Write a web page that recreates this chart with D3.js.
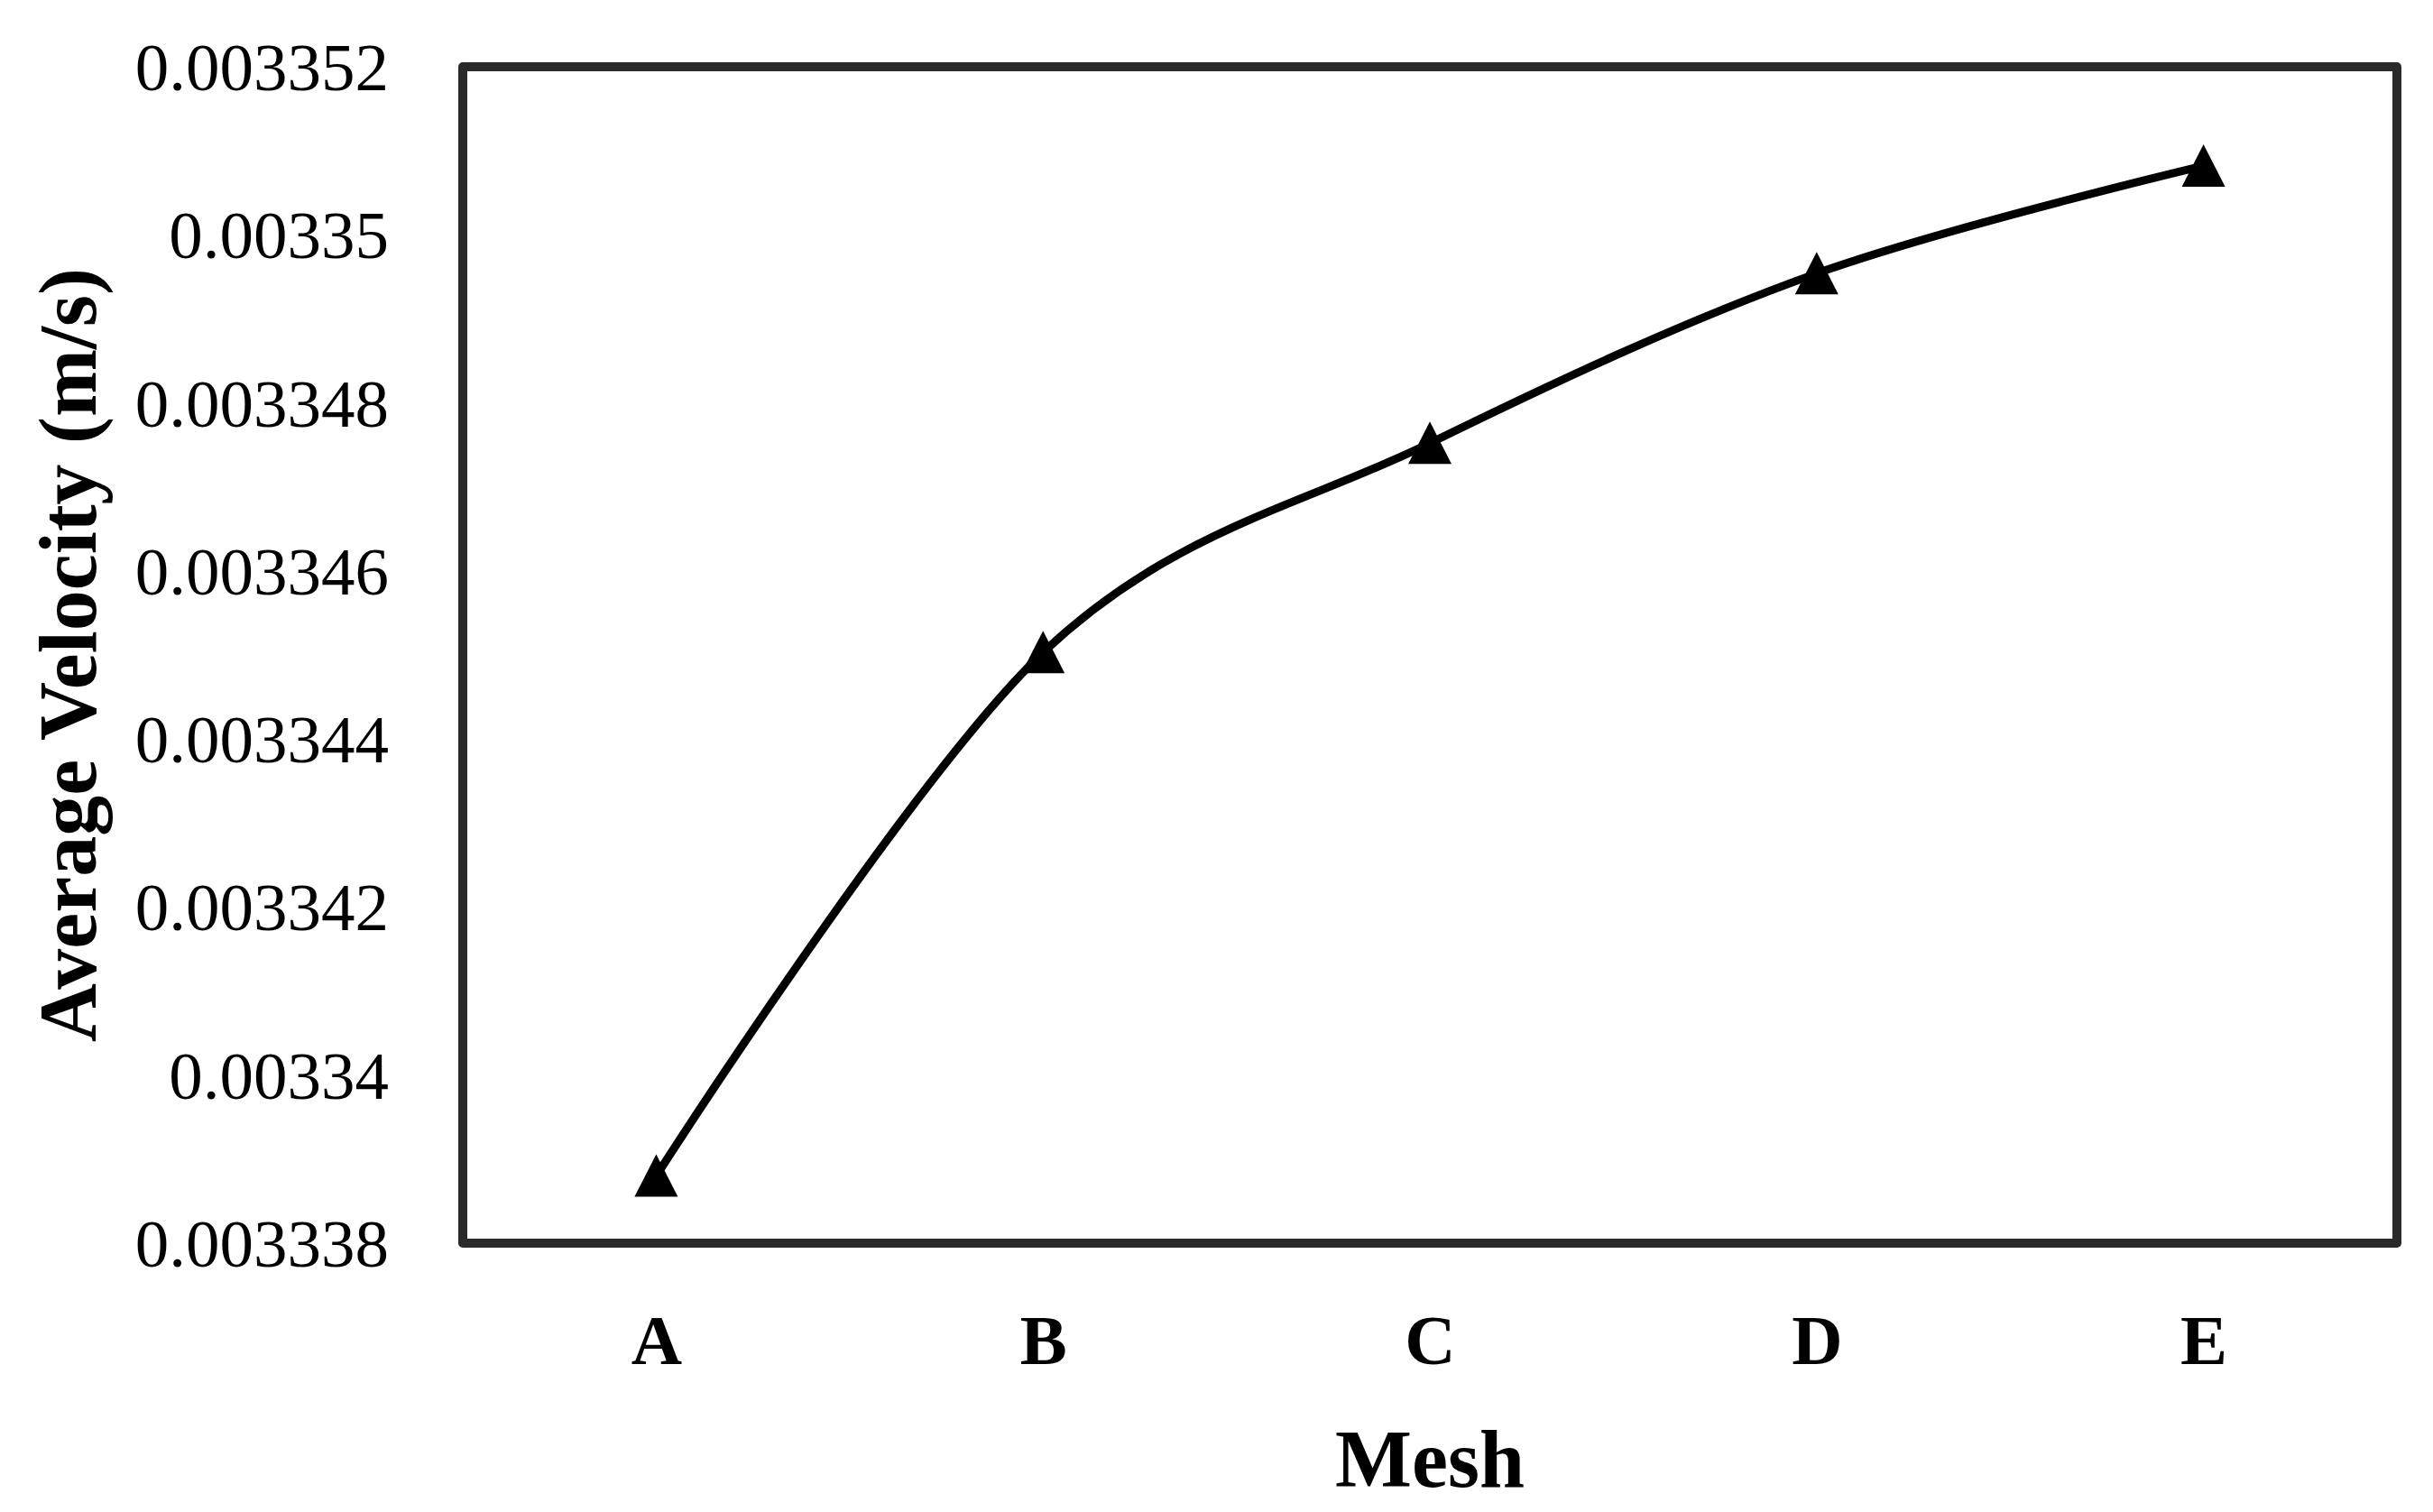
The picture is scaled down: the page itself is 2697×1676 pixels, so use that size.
<!DOCTYPE html>
<html>
<head>
<meta charset="utf-8">
<script src="https://cdn.jsdelivr.net/npm/d3@7"></script>
<style>
  html, body { margin: 0; padding: 0; background: #ffffff; }
  svg { display: block; }
</style>
</head>
<body>
<svg id="chart" width="2697" height="1676"></svg>
<script>
// ---- data ----
const categories = ["A", "B", "C", "D", "E"];
const velocity = [0.0033388, 0.00334503, 0.00334752, 0.00334954, 0.00335082];
const yTicks = [0.003338, 0.00334, 0.003342, 0.003344, 0.003346, 0.003348, 0.00335, 0.003352];
const yTickLabels = ["0.003338", "0.00334", "0.003342", "0.003344", "0.003346", "0.003348", "0.00335", "0.003352"];
const xTitle = "Mesh";
const yTitle = "Average Velocity (m/s)";

// ---- layout ----
const W = 2697, H = 1676;
const m = { left: 513, right: 2697 - 2657, top: 74, bottom: 1676 - 1378 };
const iw = W - m.left - m.right, ih = H - m.top - m.bottom;

const svg = d3.select("#chart");
const g = svg.append("g").attr("transform", `translate(${m.left},${m.top})`);

const x = d3.scalePoint().domain(categories).range([0, iw]).padding(0.5);
const y = d3.scaleLinear().domain([0.003338, 0.003352]).range([ih, 0]);

const serif = "'Liberation Serif', 'Times New Roman', serif";

// y axis labels
const yAxis = d3.axisLeft(y).tickValues(yTicks)
  .tickFormat((d, i) => yTickLabels[i]).tickSize(0).tickPadding(82);
const ya = g.append("g").call(yAxis);
ya.select(".domain").remove();
ya.selectAll("text").attr("font-family", serif).attr("font-size", 75)
  .attr("fill", "#000").attr("dy", "0.34em");

// x axis labels
const xAxis = d3.axisBottom(x).tickSize(0).tickPadding(0);
const xa = g.append("g").attr("transform", `translate(0,${ih})`).call(xAxis);
xa.select(".domain").remove();
xa.selectAll("text").attr("font-family", serif).attr("font-size", 78)
  .attr("font-weight", "bold").attr("fill", "#000").attr("dy", null).attr("y", 134);

// plot frame
g.append("rect").attr("x", 0).attr("y", 0).attr("width", iw).attr("height", ih)
  .attr("fill", "none").attr("stroke", "#2a2a2a").attr("stroke-width", 10)
  .attr("stroke-linejoin", "round");

// line
const line = d3.line()
  .x((d, i) => x(categories[i]))
  .y(d => y(d))
  .curve(d3.curveCardinal.tension(0));
g.append("path").datum(velocity).attr("d", line)
  .attr("fill", "none").attr("stroke", "#000").attr("stroke-width", 9)
  .attr("stroke-linejoin", "round");

// markers
g.selectAll(".mk").data(velocity).enter().append("path")
  .attr("class", "mk")
  .attr("transform", (d, i) => `translate(${x(categories[i])},${y(d)})`)
  .attr("d", "M0,-24L24,23L-24,23Z")
  .attr("fill", "#000");

// axis titles
svg.append("text").attr("x", m.left + iw / 2).attr("y", 1648)
  .attr("text-anchor", "middle").attr("font-family", serif)
  .attr("font-size", 90).attr("font-weight", "bold").attr("fill", "#000")
  .text(xTitle);

svg.append("text")
  .attr("transform", `translate(106,${m.top + ih / 2}) rotate(-90)`)
  .attr("text-anchor", "middle").attr("font-family", serif)
  .attr("font-size", 90).attr("font-weight", "bold").attr("fill", "#000")
  .text(yTitle);
</script>
</body>
</html>
